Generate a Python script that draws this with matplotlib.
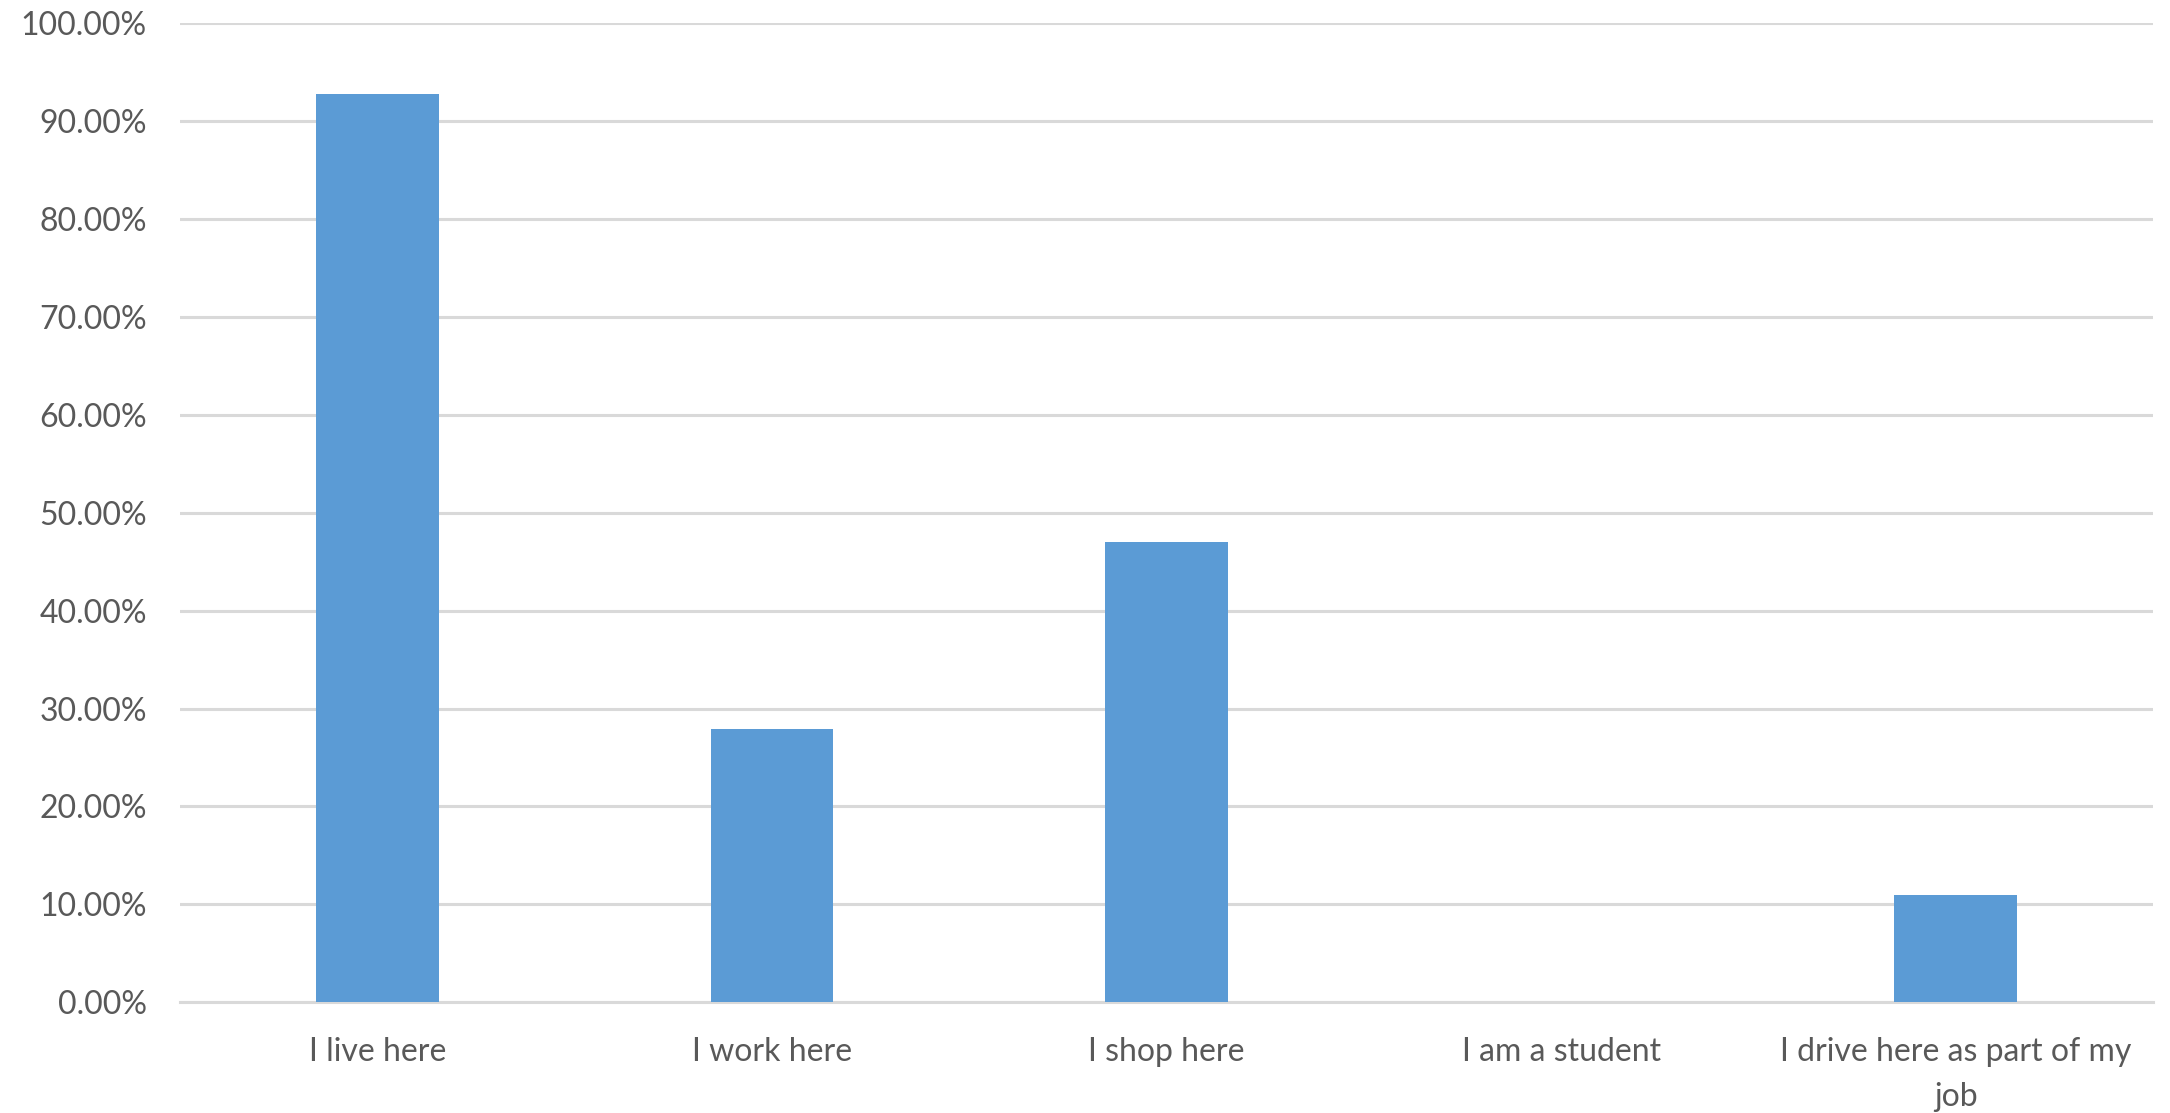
import matplotlib
matplotlib.use("Agg")
import matplotlib.pyplot as plt
from matplotlib.ticker import PercentFormatter

# Dados
categorias = ["I live here", "I work here", "I shop here", "I am a student",
              "I drive here as part of my\njob"]
valores = [92.8, 27.9, 47.0, 0.0, 11.0]

cor_barra = "#5B9BD5"
cor_grade = "#D9D9D9"
cor_texto = "#595959"

plt.rcParams["font.family"] = ["Lato", "DejaVu Sans"]

fig = plt.figure(figsize=(21.7, 11.13), dpi=100)
ax = fig.add_axes([0.0831, 0.0995, 0.9090, 0.8795])

x = range(len(categorias))
ax.bar(x, valores, width=0.31, color=cor_barra, zorder=3)

ax.set_xlim(-0.5, len(categorias) - 0.5)
ax.set_ylim(0, 100)
ax.set_yticks(range(0, 101, 10))
ax.yaxis.set_major_formatter(PercentFormatter(decimals=2))
ax.set_xticks(list(x))
ax.set_xticklabels(categorias, linespacing=1.62)

# Grade horizontal no estilo do Excel
ax.grid(axis="y", color=cor_grade, linewidth=2.2, zorder=0)
for lado in ["top", "right", "left"]:
    ax.spines[lado].set_visible(False)
ax.spines["bottom"].set_color(cor_grade)
ax.spines["bottom"].set_linewidth(2.2)

ax.tick_params(axis="both", length=0, labelsize=23, labelcolor=cor_texto)
ax.tick_params(axis="y", pad=24)
ax.tick_params(axis="x", pad=25)

fig.savefig("out.png", dpi=100)
plt.close()
